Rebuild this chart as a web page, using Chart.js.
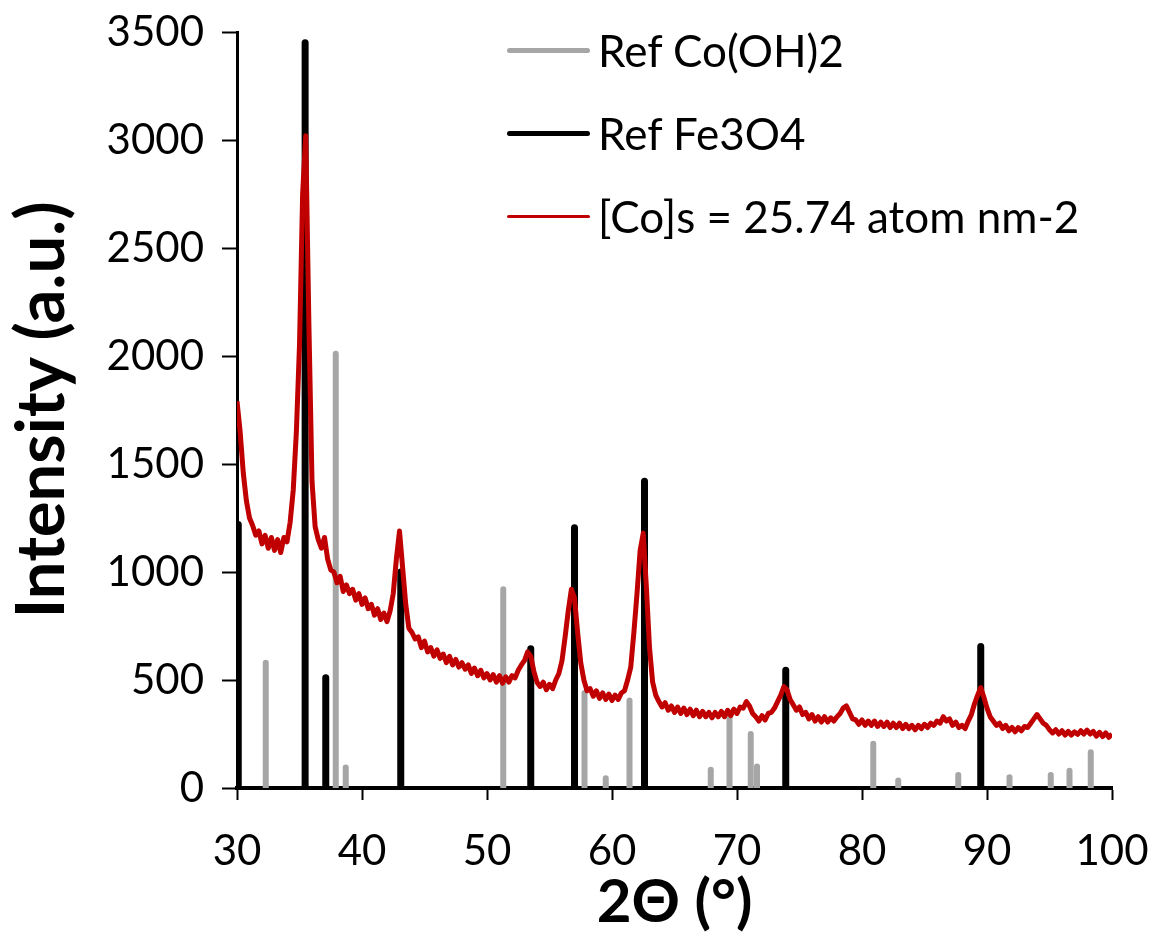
<!DOCTYPE html>
<html>
<head>
<meta charset="utf-8">
<script src="https://cdn.jsdelivr.net/npm/chart.js@4/dist/chart.umd.min.js"></script>
<style>
    body { margin: 0; background: #fff; }
    #wrap { position: relative; width: 1155px; height: 939px; }
    .legend-row { position: absolute; left: 507px; height: 50px; display: flex; align-items: center;
                  font-family: Lato, sans-serif; font-size: 44px; color: #000; white-space: nowrap; }
    .legend-row .swatch { width: 83px; margin-right: 8px; border-radius: 3px; }
</style>
</head>
<body>
<div id="wrap">
    <canvas id="xrdChart" width="1155" height="939"></canvas>
    <div class="legend-row" style="top:25px"><span class="swatch" style="height:5px;background:#a6a6a6"></span>Ref Co(OH)2</div>
    <div class="legend-row" style="top:108px"><span class="swatch" style="height:5px;background:#000"></span>Ref Fe3O4</div>
    <div class="legend-row" style="top:191px"><span class="swatch" style="height:3px;background:#c00000"></span>[Co]s = 25.74 atom nm-2</div>
</div>
<script>
// ==============================
//  DATA
// ==============================
const xTicks = [30, 40, 50, 60, 70, 80, 90, 100];
const yTicks = [0, 500, 1000, 1500, 2000, 2500, 3000, 3500];

// reference sticks, Co(OH)2
const cohPos    = [32.3, 37.9, 38.7, 51.3, 57.8, 59.5, 61.4, 67.9, 69.4, 71.1, 71.6, 80.9, 82.9, 87.7, 91.8, 95.1, 96.6, 98.3];
const cohHeight = [ 580, 2010,   95,  920,  440,   45,  405,   85,  350,  250,  100,  205,   35,   60,   50,   60,   80,  165];

// reference sticks, Fe3O4
const feoPos    = [30.1, 35.45, 37.1, 43.1, 53.5, 57.0, 62.6, 73.9, 89.5];
const feoHeight = [1220,  3450,  510, 1000,  645, 1205, 1420,  545,  655];

// measured pattern, 30 -> 100 deg every 0.25 deg
const scanStart = 30;
const scanStep = 0.25;
const scanCounts = [
    1790, 1650, 1460, 1330, 1250, 1215, 1170, 1190, 1130, 1170, 1110, 1160, 1100, 1150, 1090, 1160,
    1140, 1230, 1380, 1650, 2050, 2750, 3020, 2150, 1420, 1210, 1150, 1110, 1160, 1060, 1010, 1000,
     950,  980,  910,  940,  900,  920,  870,  900,  850,  880,  830,  850,  800,  830,  780,  810,
     770,  820,  900, 1060, 1190, 1020,  850,  740,  720,  690,  700,  650,  680,  630,  650,  610,
     640,  600,  620,  580,  610,  570,  595,  560,  580,  550,  570,  530,  555,  520,  545,  510,
     530,  500,  525,  490,  520,  485,  515,  490,  520,  510,  545,  570,  590,  630,  610,  540,
     490,  470,  490,  455,  480,  460,  500,  530,  590,  700,  820,  920,  880,  720,  580,  500,
     450,  460,  425,  450,  415,  440,  410,  435,  405,  430,  410,  440,  450,  500,  560,  720,
     900, 1100, 1180,  930,  650,  490,  430,  400,  375,  395,  360,  380,  350,  375,  345,  370,
     340,  365,  335,  360,  330,  355,  330,  350,  325,  350,  330,  355,  330,  360,  335,  365,
     345,  375,  370,  400,  380,  345,  330,  310,  335,  315,  345,  350,  370,  400,  430,  470,
     455,  410,  385,  360,  375,  340,  350,  320,  340,  310,  330,  305,  330,  305,  325,  310,
     330,  345,  370,  380,  350,  320,  315,  295,  315,  290,  310,  290,  310,  285,  305,  285,
     305,  280,  300,  280,  300,  275,  295,  275,  290,  270,  290,  275,  295,  280,  300,  290,
     310,  300,  330,  310,  320,  290,  305,  280,  290,  275,  310,  340,  390,  430,  465,  420,
     370,  330,  310,  290,  300,  275,  290,  265,  280,  260,  280,  265,  285,  280,  300,  320,
     340,  320,  300,  290,  270,  255,  270,  250,  265,  245,  262,  245,  260,  248,  265,  250,
     268,  250,  262,  240,  258,  238,  255,  235,  250
];

// ==============================
//  BUILD DATASETS
// ==============================
function sticks(pos, height) {
    const pts = [];
    pos.forEach((p, i) => {
        pts.push({ x: p, y: 0 }, { x: p, y: height[i] }, { x: p, y: null });
    });
    return pts;
}

const scanPoints = scanCounts.map((v, i) => ({ x: scanStart + i * scanStep, y: v }));

const FONT = "Lato, 'Open Sans', sans-serif";
Chart.defaults.font.family = FONT;
Chart.defaults.color = "#000";

new Chart(document.getElementById("xrdChart"), {
    type: "line",
    data: {
        datasets: [
            {
                label: "[Co]s = 25.74 atom nm-2",
                data: scanPoints,
                borderColor: "#c00000",
                borderWidth: 5,
                borderJoinStyle: "round",
                pointRadius: 0,
                tension: 0
            },
            {
                label: "Ref Fe3O4",
                data: sticks(feoPos, feoHeight),
                borderColor: "#000",
                borderWidth: 7,
                borderCapStyle: "round",
                pointRadius: 0,
                spanGaps: false
            },
            {
                label: "Ref Co(OH)2",
                data: sticks(cohPos, cohHeight),
                borderColor: "#a6a6a6",
                borderWidth: 6,
                borderCapStyle: "round",
                pointRadius: 0,
                spanGaps: false
            }
        ]
    },
    options: {
        responsive: false,
        animation: false,
        layout: { padding: { top: 32, right: 43, bottom: 0, left: 0 } },
        plugins: { legend: { display: false }, tooltip: { enabled: false } },
        scales: {
            x: {
                type: "linear",
                min: 30,
                max: 100,
                afterBuildTicks: s => { s.ticks = xTicks.map(v => ({ value: v })); },
                afterFit: s => { s.height = 151; s.paddingLeft = 0; s.paddingRight = 0; },
                grid: { drawOnChartArea: false, tickLength: 12, tickWidth: 2, color: "#000" },
                border: { color: "#000", width: 4 },
                ticks: { font: { size: 42 }, padding: 26, maxRotation: 0 },
                title: { display: true, text: "2Θ (°)", font: { size: 60, weight: "bold" }, padding: { top: 0, bottom: 0 } }
            },
            y: {
                min: 0,
                max: 3500,
                afterBuildTicks: s => { s.ticks = yTicks.map(v => ({ value: v })); },
                afterFit: s => { s.width = 237; s.paddingTop = 0; s.paddingBottom = 0; },
                grid: { drawOnChartArea: false, tickLength: 15, tickWidth: 2, color: "#000" },
                border: { color: "#000", width: 3 },
                ticks: { font: { size: 42 }, padding: 18, callback: v => String(v) },
                title: { display: true, text: "Intensity (a.u.)", font: { size: 67, weight: "bold" }, padding: { top: 2, bottom: 0 } }
            }
        }
    }
});
</script>
</body>
</html>
